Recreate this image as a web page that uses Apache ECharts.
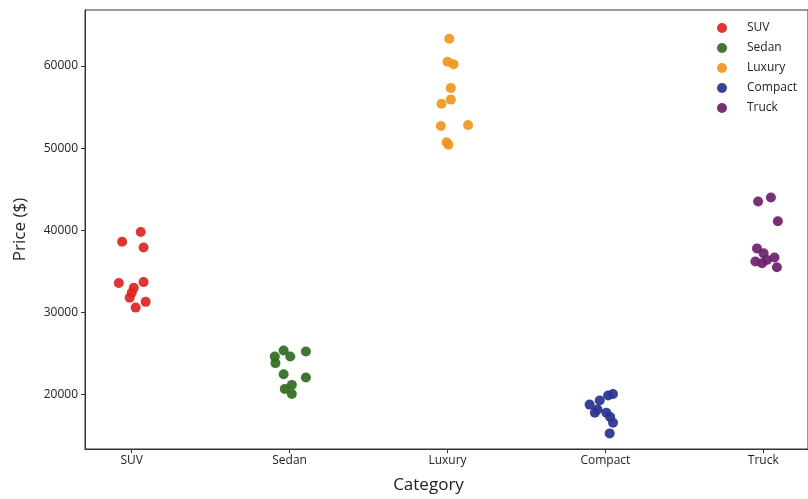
<!DOCTYPE html>
<html>
<head>
<meta charset="utf-8">
<script src="https://cdn.jsdelivr.net/npm/echarts@6/dist/echarts.min.js"></script>
<style>html,body{margin:0;padding:0;background:#fff}#c{width:808px;height:499px}</style>
</head>
<body>
<div id="c"></div>
<script>
const categories = ['SUV', 'Sedan', 'Luxury', 'Compact', 'Truck'];
const yTicks = [20000, 30000, 40000, 50000, 60000];
const suvPrice = [39800, 38600, 37900, 33600, 33700, 33000, 32400, 31800, 31300, 30600];
const suvJitter = [0.057, -0.061, 0.075, -0.082, 0.075, 0.013, 0.0, -0.013, 0.088, 0.025];
const sedanPrice = [24650, 25380, 24650, 25260, 23850, 22500, 22100, 20700, 21200, 20100];
const sedanJitter = [-0.094, -0.038, 0.004, 0.103, -0.09, -0.038, 0.103, -0.031, 0.014, 0.014];
const luxuryPrice = [63300, 60500, 60200, 57300, 55900, 55400, 52700, 52800, 50700, 50400];
const luxuryJitter = [0.011, 0.0, 0.038, 0.021, 0.021, -0.038, -0.042, 0.13, -0.006, 0.006];
const compactPrice = [18800, 18200, 19300, 19900, 20100, 17800, 17800, 17300, 16600, 15300];
const compactJitter = [-0.10, -0.05, -0.036, 0.017, 0.048, -0.067, 0.006, 0.03, 0.048, 0.027];
const truckPrice = [43500, 44000, 41100, 37800, 37200, 36200, 36400, 36700, 35500, 36000];
const truckJitter = [-0.033, 0.048, 0.092, -0.04, 0.002, -0.05, 0.023, 0.071, 0.086, -0.008];
const colors = ['#dc2424', '#2f6b1f', '#f0961e', '#2a318e', '#6c206e'];

const prices = [suvPrice, sedanPrice, luxuryPrice, compactPrice, truckPrice];
const jitters = [suvJitter, sedanJitter, luxuryJitter, compactJitter, truckJitter];
const font = '"Open Sans", "Noto Sans", sans-serif';

const series = categories.map((name, i) => ({
  name,
  type: 'scatter',
  symbolSize: 10,
  itemStyle: { color: colors[i], opacity: 0.92 },
  data: prices[i].map((p, k) => [i + jitters[i][k], p])
}));

const chart = echarts.init(document.getElementById('c'));
chart.setOption({
  backgroundColor: '#fff',
  animation: false,
  color: colors,
  grid: { left: 85, top: 10, bottom: 46, right: -5, show: true, borderColor: '#333', borderWidth: 1, backgroundColor: 'transparent' },
  legend: {
    orient: 'vertical', left: 712, top: 17,
    icon: 'circle', itemWidth: 10, itemHeight: 10, itemGap: 8,
    textStyle: { fontFamily: font, fontSize: 12, color: '#222', padding: [0, 0, 0, 15] },
    data: categories
  },
  xAxis: {
    type: 'value', min: -0.296, max: 4.283,
    name: 'Category', nameLocation: 'middle', nameGap: 28,
    nameTextStyle: { fontFamily: font, fontSize: 17, color: '#222', padding: [0, 36, 0, 0] },
    axisLine: { show: true, onZero: false, lineStyle: { color: '#333' } },
    axisTick: { show: true, length: 4, lineStyle: { color: '#333' }, customValues: [0, 1, 2, 3, 4] },
    axisLabel: { fontFamily: font, fontSize: 12, color: '#222', margin: 6, customValues: [0, 1, 2, 3, 4], formatter: v => categories[Math.round(v)] },
    splitLine: { show: false }
  },
  yAxis: {
    type: 'value', min: 13400, max: 66800,
    name: 'Price ($)', nameLocation: 'middle', nameGap: 56,
    nameTextStyle: { fontFamily: font, fontSize: 17, color: '#222' },
    axisLine: { show: true, onZero: false, lineStyle: { color: '#333' } },
    axisTick: { show: true, length: 4, lineStyle: { color: '#333' }, customValues: yTicks },
    axisLabel: { fontFamily: font, fontSize: 12, color: '#222', margin: 7, customValues: yTicks, formatter: v => String(v) },
    splitLine: { show: false }
  },
  series
});
</script>
</body>
</html>
